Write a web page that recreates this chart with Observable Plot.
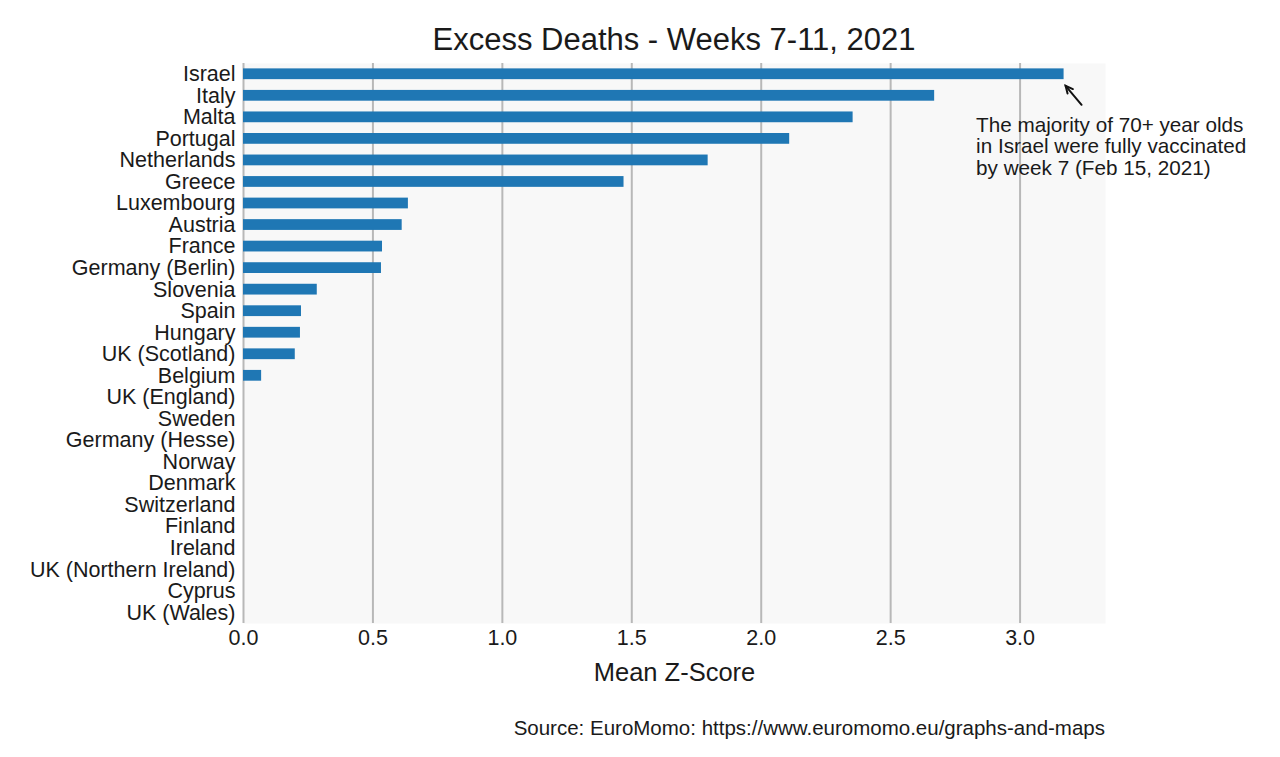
<!DOCTYPE html>
<html>
<head>
<meta charset="utf-8">
<script src="https://cdn.jsdelivr.net/npm/d3@7"></script>
<script src="https://cdn.jsdelivr.net/npm/@observablehq/plot@0.6"></script>
<style>
  html, body { margin: 0; padding: 0; background: #fff; }
  body { width: 1280px; height: 757px; overflow: hidden; font-family: "Liberation Sans", Arial, sans-serif; color: #1a1a1a; }
  #title { position: relative; height: 62px; }
  #title span { position: absolute; left: 0; top: 22px; width: 1348px; text-align: center; font-size: 31px; line-height: 36px; }
  #caption { width: 1105px; text-align: right; font-size: 20.5px; line-height: 24px; padding-top: 14px; }
  svg { display: block; }
</style>
</head>
<body>
<div id="title"><span>Excess Deaths - Weeks 7-11, 2021</span></div>
<div id="chart"></div>
<div id="caption">Source: EuroMomo: https://www.euromomo.eu/graphs-and-maps</div>
<script>
const countries = ["Israel","Italy","Malta","Portugal","Netherlands","Greece","Luxembourg","Austria","France","Germany (Berlin)","Slovenia","Spain","Hungary","UK (Scotland)","Belgium","UK (England)","Sweden","Germany (Hesse)","Norway","Denmark","Switzerland","Finland","Ireland","UK (Northern Ireland)","Cyprus","UK (Wales)"];
const zScores = [3.17,2.67,2.355,2.11,1.795,1.47,0.637,0.613,0.537,0.533,0.285,0.224,0.22,0.2,0.07,0,0,0,0,0,0,0,0,0,0,0];
const xTicks = [0,0.5,1.0,1.5,2.0,2.5,3.0];
const xLabel = "Mean Z-Score";
const annotation = "The majority of 70+ year olds\nin Israel were fully vaccinated\nby week 7 (Feb 15, 2021)";
const annotatedCountry = "Israel";
const annotationX = 2.83;

const data = countries.map((c, i) => ({country: c, value: zScores[i]}));

const arrowMark = (index, scales, values, dims) => {
  const x = scales.x, y = scales.y;
  const bw = typeof y.bandwidth === "function" ? y.bandwidth() : (y.bandwidth || 0);
  const v = zScores[countries.indexOf(annotatedCountry)];
  const tipX = x(v) + 2, tipY = y(annotatedCountry) + bw / 2 + 12;
  const tailX = tipX + 16, tailY = tipY + 19;
  const ang = Math.atan2(tailY - tipY, tailX - tipX);
  const hl = 8, ha = 0.45;
  const g = d3.create("svg:g").attr("stroke", "#111").attr("stroke-width", 2).attr("fill", "none").attr("stroke-linecap", "round");
  g.append("line").attr("x1", tailX).attr("y1", tailY).attr("x2", tipX).attr("y2", tipY);
  g.append("path").attr("d", `M${tipX + hl*Math.cos(ang+ha)},${tipY + hl*Math.sin(ang+ha)}L${tipX},${tipY}L${tipX + hl*Math.cos(ang-ha)},${tipY + hl*Math.sin(ang-ha)}`);
  return g.node();
};

const chart = Plot.plot({
  width: 1280,
  height: 640,
  marginLeft: 243,
  marginRight: 175,
  marginTop: 1,
  marginBottom: 79,
  style: {fontFamily: "'Liberation Sans', Arial, sans-serif", fontSize: "21.5px", color: "#1a1a1a", background: "transparent"},
  x: {domain: [0, 3.33], ticks: xTicks, tickFormat: d3.format(".1f"), tickSize: 0, tickPadding: 6, label: null},
  y: {domain: countries, paddingInner: 0.5, paddingOuter: 0.25, round: false, tickSize: 0, tickPadding: 8, label: null},
  marks: [
    Plot.frame({fill: "#f8f8f8", stroke: null}),
    Plot.ruleX(xTicks, {stroke: "#b8b8b8", strokeWidth: 2, strokeOpacity: 1}),
    Plot.barX(data, {x: "value", y: "country", fill: "#1f77b4"}),
    Plot.text([annotation], {x: () => annotationX, y: () => annotatedCountry, text: d => d, textAnchor: "start", lineAnchor: "top", dy: 42, fontSize: 20.7, lineHeight: 1.04, fill: "#1a1a1a"}),
    Plot.text([xLabel], {frameAnchor: "bottom", text: d => d, dy: 57, fontSize: 25.5, fill: "#1a1a1a"}),
    arrowMark
  ]
});
document.getElementById("chart").appendChild(chart);
</script>
</body>
</html>
